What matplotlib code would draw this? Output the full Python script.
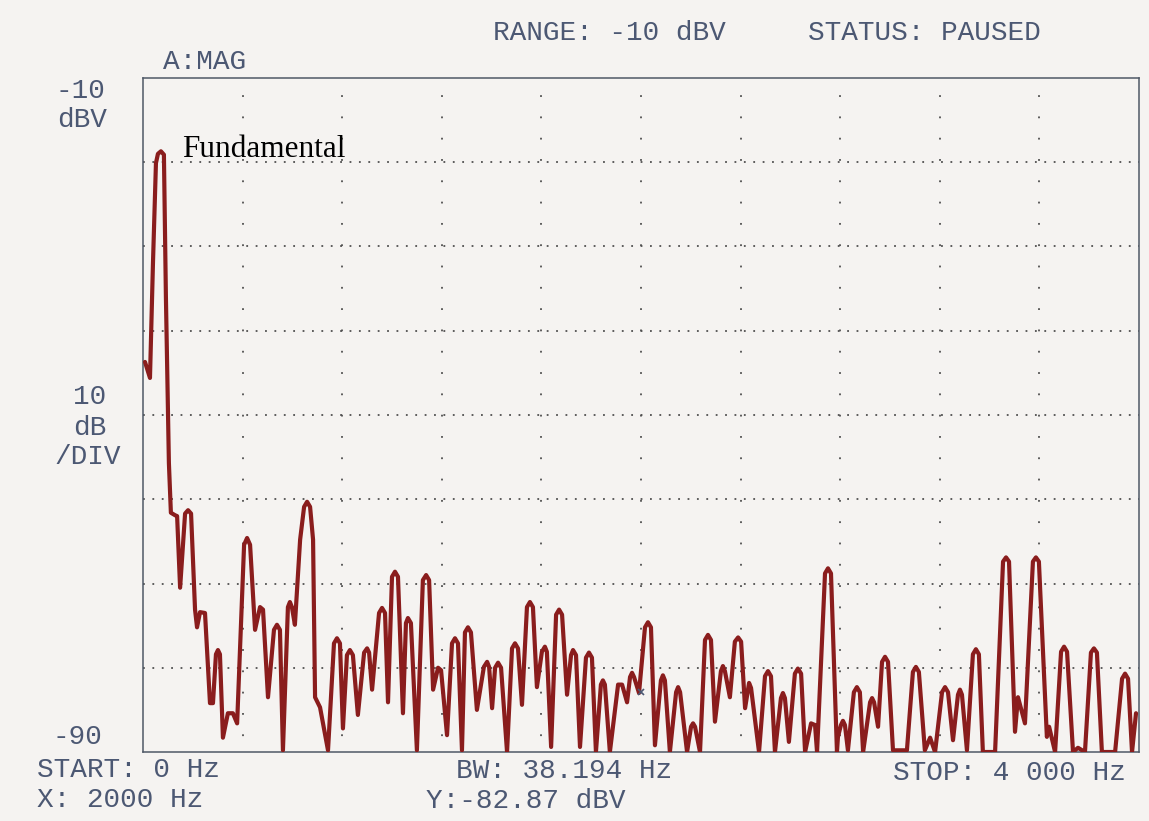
import matplotlib
matplotlib.use("Agg")
import matplotlib.pyplot as plt

# spectrum trace, 0-4000 Hz, dBV
freq_hz = [8, 28, 40, 52, 60, 72, 84, 92, 104, 112, 129, 137, 149, 169, 181, 193, 209,
           217, 229, 249, 269, 281, 293, 301, 309, 321, 341, 361, 378, 406, 418, 430,
           450, 470, 482, 502, 526, 538, 550, 562, 582, 590, 598, 610, 631, 647, 659,
           671, 683, 691, 711, 743, 767, 779, 791, 803, 819, 831, 843, 863, 888, 900,
           908, 920, 948, 960, 972, 984, 1000, 1012, 1024, 1044, 1056, 1064, 1076,
           1100, 1124, 1137, 1149, 1165, 1185, 1197, 1221, 1241, 1253, 1265, 1281,
           1293, 1305, 1317, 1341, 1369, 1382, 1390, 1402, 1414, 1426, 1438, 1462,
           1482, 1494, 1506, 1522, 1542, 1554, 1566, 1582, 1602, 1614, 1622, 1639,
           1659, 1671, 1683, 1703, 1719, 1727, 1739, 1755, 1779, 1791, 1803, 1819,
           1839, 1847, 1855, 1875, 1908, 1924, 1944, 1956, 1964, 1972, 1992, 2016,
           2028, 2040, 2056, 2080, 2088, 2096, 2116, 2141, 2149, 2157, 2185, 2201,
           2209, 2217, 2237, 2257, 2269, 2281, 2297, 2321, 2329, 2337, 2357, 2377,
           2390, 2402, 2418, 2434, 2442, 2474, 2498, 2510, 2522, 2538, 2562, 2570,
           2578, 2594, 2618, 2630, 2643, 2659, 2683, 2699, 2707, 2739, 2751, 2763,
           2787, 2791, 2803, 2811, 2819, 2831, 2855, 2867, 2879, 2892, 2920, 2928,
           2936, 2952, 2968, 2980, 2992, 3012, 3068, 3092, 3104, 3116, 3140, 3161,
           3181, 3209, 3221, 3233, 3253, 3273, 3281, 3289, 3309, 3333, 3345, 3357,
           3373, 3422, 3454, 3466, 3478, 3502, 3514, 3542, 3574, 3586, 3598, 3630,
           3639, 3663, 3687, 3699, 3711, 3735, 3755, 3783, 3807, 3819, 3831, 3851,
           3904, 3932, 3944, 3956, 3972, 3988]
mag_dbv = [-43.7, -45.6, -32.0, -20.1, -19.0, -18.7, -19.1, -36.0, -55.7, -61.6, -61.9,
           -62.0, -70.5, -61.7, -61.3, -61.7, -73.1, -75.2, -73.4, -73.5, -84.2, -84.2,
           -78.4, -77.9, -78.4, -88.3, -85.4, -85.4, -86.6, -65.4, -64.6, -65.4, -75.5,
           -72.8, -73.1, -83.5, -75.5, -74.9, -75.5, -89.8, -72.8, -72.2, -72.8, -74.9,
           -64.8, -60.9, -60.3, -60.9, -64.8, -83.5, -84.7, -89.8, -77.1, -76.5, -77.1,
           -87.2, -78.5, -77.9, -78.5, -85.6, -78.2, -77.7, -78.2, -82.6, -73.5, -72.9,
           -73.5, -84.1, -69.2, -68.6, -69.2, -85.4, -74.7, -74.1, -74.7, -89.8, -69.6,
           -69.0, -69.6, -82.6, -80.0, -80.3, -88.0, -77.1, -76.5, -77.1, -89.8, -75.8,
           -75.2, -75.8, -85.0, -79.9, -79.3, -79.9, -84.8, -80.0, -79.4, -80.0, -90.0,
           -77.7, -77.1, -77.7, -84.4, -72.8, -72.2, -72.8, -82.3, -78.1, -77.5, -78.1,
           -89.4, -73.7, -73.1, -73.7, -83.2, -78.5, -77.9, -78.5, -89.4, -78.8, -78.2,
           -78.8, -90.0, -82.0, -81.5, -82.0, -90.0, -82.0, -82.0, -84.1, -81.1, -80.6,
           -81.1, -83.0, -75.2, -74.6, -75.2, -89.2, -81.5, -80.9, -81.5, -90.0, -82.9,
           -82.3, -82.9, -90.0, -87.0, -86.6, -87.0, -90.0, -76.7, -76.1, -76.7, -86.4,
           -80.4, -79.8, -80.4, -83.5, -76.9, -76.4, -76.9, -84.8, -81.8, -82.4, -90.0,
           -81.0, -80.4, -81.0, -90.0, -83.6, -83.0, -83.6, -88.8, -80.7, -80.1, -80.7,
           -90.0, -86.6, -86.8, -90.0, -68.8, -68.2, -68.8, -90.0, -88.2, -86.8, -86.3,
           -86.8, -89.8, -82.9, -82.3, -82.9, -90.0, -84.1, -83.6, -84.1, -87.0, -79.3,
           -78.7, -79.3, -89.8, -89.8, -80.5, -79.9, -80.5, -89.8, -88.3, -90.0, -82.9,
           -82.3, -82.9, -88.6, -83.2, -82.6, -83.2, -89.8, -78.4, -77.8, -78.4, -90.0,
           -90.0, -67.4, -66.9, -67.4, -87.6, -83.5, -86.6, -67.4, -66.9, -67.4, -88.2,
           -87.0, -90.0, -78.1, -77.5, -78.1, -90.0, -89.5, -90.0, -78.2, -77.7, -78.2,
           -90.0, -90.0, -81.3, -80.7, -81.3, -90.0, -85.4]

# marker readout
marker_x = 2000
marker_y = -82.87

f_start, f_stop = 0, 4000
ref_level, db_per_div, n_div = -10, 10, 8

bg = "#f5f3f1"
ink = "#4c5873"
trace_col = "#8a1d1d"
W, H = 1149, 821

fig = plt.figure(figsize=(W / 100, H / 100), dpi=100, facecolor=bg)
ax = fig.add_axes([143 / W, 69 / H, 996 / W, 674 / H])
ax.set_facecolor(bg)
ax.set_xlim(f_start, f_stop)
ax.set_ylim(ref_level - n_div * db_per_div, ref_level)
ax.set_xticks([])
ax.set_yticks([])
for s in ax.spines.values():
    s.set_color("#4f5866")
    s.set_linewidth(1.1)

# dotted graticule
for k in range(1, n_div):
    ax.axhline(ref_level - k * db_per_div, color="#505050", lw=1.3,
               ls=(0, (1, 4.2)), zorder=1)
for k in range(1, 10):
    ax.axvline(f_start + k * (f_stop - f_start) / 10, color="#505050", lw=1.3,
               ls=(3, (1, 10.8)), zorder=1)

ax.plot(freq_hz, mag_dbv, color=trace_col, lw=3.0, solid_joinstyle="round",
        solid_capstyle="round", zorder=3)
ax.plot([marker_x], [marker_y], marker="x", ms=5, mew=1.2, color=ink, zorder=4)

ax.text(155, -19.4, "Fundamental", family="Liberation Serif", fontsize=22.5,
        color="black", va="baseline", ha="left", zorder=5)


def label(x, y, s):
    fig.text(x / W, 1 - y / H, s, family="Liberation Mono", fontsize=20,
             color=ink, ha="left", va="center")


label(493, 33, "RANGE: -10 dBV")
label(808, 33, "STATUS: PAUSED")
label(163, 62, "A:MAG")
label(55, 91, "-10")
label(57, 120, "dBV")
label(73, 397, "10")
label(73, 428, "dB")
label(54, 457, "/DIV")
label(53, 737, "-90")
label(37, 770, "START: 0 Hz")
label(37, 800, "X: 2000 Hz")
label(456, 771, "BW: 38.194 Hz")
label(426, 801, "Y:-82.87 dBV")
label(893, 773, "STOP: 4 000 Hz")

fig.savefig("out.png", dpi=100, facecolor=bg)
